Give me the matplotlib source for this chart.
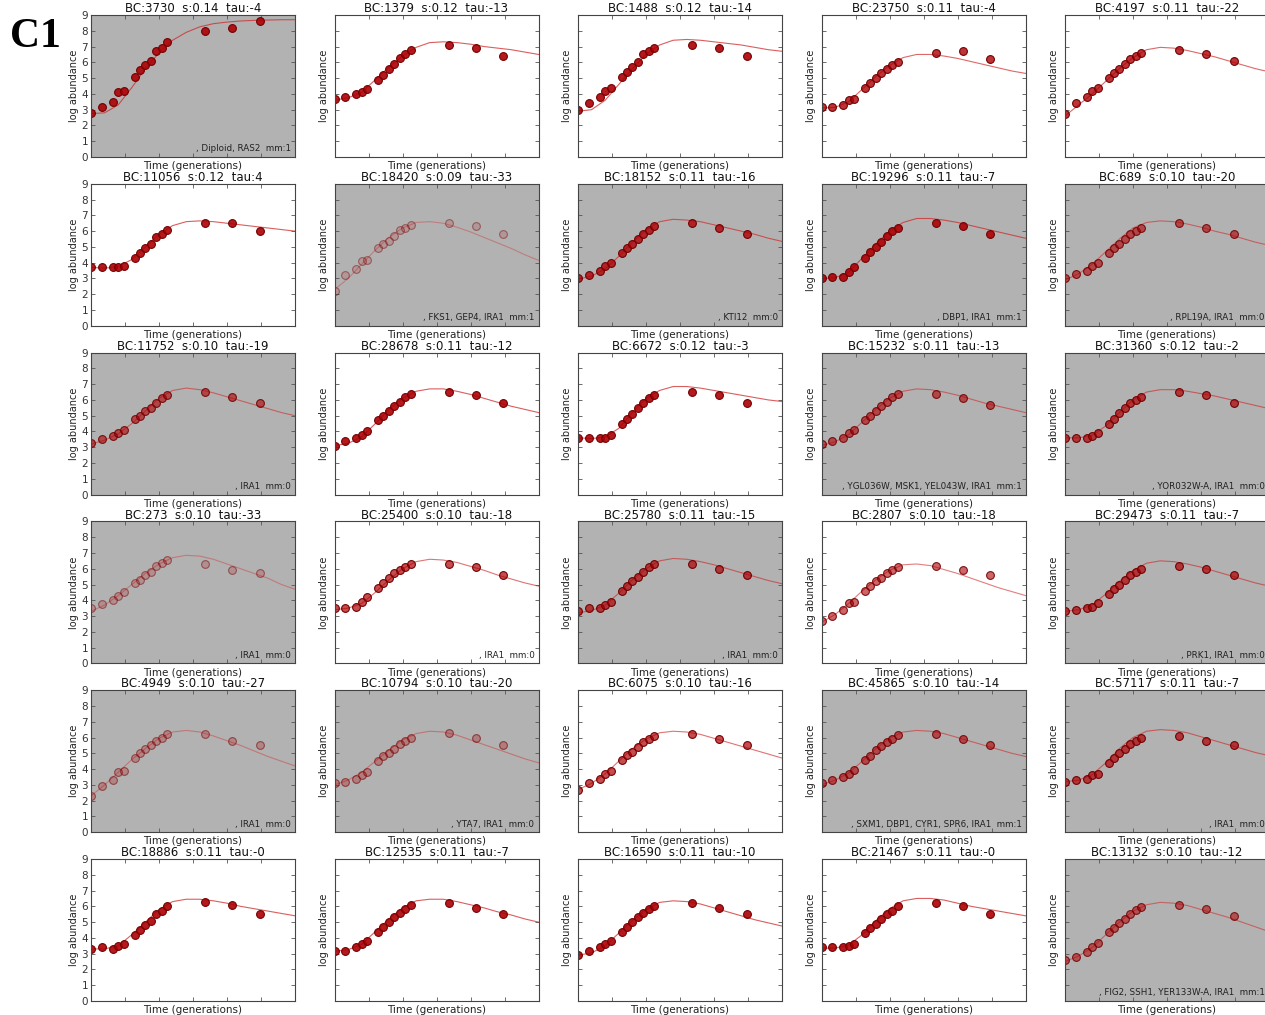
import matplotlib
matplotlib.use('Agg')
import matplotlib.pyplot as plt
import numpy as np

# ── Data ───────────────────────────────────────────────────────────────────
# sampling times (generations), shared by every barcode
times = [0, 8, 16, 20, 24, 32, 36, 40, 44, 48, 52, 56, 84, 104, 124]
# times at which the fitted curve was read
fit_t = [0, 10, 20, 30, 40, 50, 60, 70, 80, 90, 100, 110, 120, 130, 140, 150]

bc_ids = [3730, 1379, 1488, 23750, 4197,
          11056, 18420, 18152, 19296, 689,
          11752, 28678, 6672, 15232, 31360,
          273, 25400, 25780, 2807, 29473,
          4949, 10794, 6075, 45865, 57117,
          18886, 12535, 16590, 21467, 13132]
s_vals = ['0.14', '0.12', '0.12', '0.11', '0.11',
          '0.12', '0.09', '0.11', '0.11', '0.10',
          '0.10', '0.11', '0.12', '0.11', '0.12',
          '0.10', '0.10', '0.11', '0.10', '0.11',
          '0.10', '0.10', '0.10', '0.10', '0.11',
          '0.11', '0.11', '0.11', '0.11', '0.10']
tau_vals = ['-4', '-13', '-14', '-4', '-22',
            '4', '-33', '-16', '-7', '-20',
            '-19', '-12', '-3', '-13', '-2',
            '-33', '-18', '-15', '-18', '-7',
            '-27', '-20', '-16', '-14', '-7',
            '-0', '-7', '-10', '-0', '-12']
notes = [', Diploid, RAS2  mm:1', '', '', '', '',
         '', ', FKS1, GEP4, IRA1  mm:1', ', KTI12  mm:0', ', DBP1, IRA1  mm:1', ', RPL19A, IRA1  mm:0',
         ', IRA1  mm:0', '', '', ', YGL036W, MSK1, YEL043W, IRA1  mm:1', ', YOR032W-A, IRA1  mm:0',
         ', IRA1  mm:0', ', IRA1  mm:0', ', IRA1  mm:0', '', ', PRK1, IRA1  mm:0',
         ', IRA1  mm:0', ', YTA7, IRA1  mm:0', '', ', SXM1, DBP1, CYR1, SPR6, IRA1  mm:1', ', IRA1  mm:0',
         '', '', '', '', ', FIG2, SSH1, YER133W-A, IRA1  mm:1']
shaded = [1, 0, 0, 0, 0,
          0, 1, 1, 1, 1,
          1, 0, 0, 1, 1,
          1, 0, 1, 0, 1,
          1, 1, 0, 1, 1,
          0, 0, 0, 0, 1]
pt_alpha = [0.9, 0.9, 0.9, 0.8, 0.8,
            0.9, 0.15, 0.8, 0.9, 0.6,
            0.6, 0.9, 0.9, 0.6, 0.7,
            0.2, 0.7, 0.7, 0.6, 0.7,
            0.25, 0.3, 0.7, 0.6, 0.7,
            0.9, 0.9, 0.9, 0.9, 0.55]

abund = [
    [2.8, 3.2, 3.5, 4.1, 4.2, 5.1, 5.5, 5.8, 6.1, 6.7, 6.9, 7.3, 8.0, 8.2, 8.6],
    [3.7, 3.8, 4.0, 4.1, 4.3, 4.9, 5.2, 5.6, 5.9, 6.3, 6.5, 6.8, 7.1, 6.9, 6.4],
    [3.0, 3.4, 3.8, 4.2, 4.4, 5.1, 5.4, 5.7, 6.0, 6.5, 6.7, 6.9, 7.1, 6.9, 6.4],
    [3.2, 3.2, 3.3, 3.6, 3.7, 4.4, 4.7, 5.0, 5.3, 5.6, 5.8, 6.0, 6.6, 6.7, 6.2],
    [2.7, 3.4, 3.8, 4.2, 4.4, 5.0, 5.3, 5.6, 5.9, 6.2, 6.4, 6.6, 6.8, 6.5, 6.1],
    [3.7, 3.7, 3.7, 3.7, 3.8, 4.3, 4.6, 4.9, 5.2, 5.6, 5.8, 6.1, 6.5, 6.5, 6.0],
    [2.2, 3.2, 3.6, 4.1, 4.2, 4.9, 5.2, 5.4, 5.7, 6.1, 6.2, 6.4, 6.5, 6.3, 5.8],
    [3.0, 3.2, 3.5, 3.8, 4.0, 4.6, 4.9, 5.2, 5.5, 5.8, 6.1, 6.3, 6.5, 6.2, 5.8],
    [3.0, 3.1, 3.1, 3.4, 3.7, 4.3, 4.7, 5.0, 5.3, 5.7, 6.0, 6.2, 6.5, 6.3, 5.8],
    [3.0, 3.3, 3.5, 3.8, 4.0, 4.6, 4.9, 5.2, 5.5, 5.8, 6.0, 6.2, 6.5, 6.2, 5.8],
    [3.3, 3.5, 3.7, 3.9, 4.1, 4.8, 5.0, 5.3, 5.5, 5.8, 6.1, 6.3, 6.5, 6.2, 5.8],
    [3.1, 3.4, 3.6, 3.8, 4.0, 4.7, 5.0, 5.3, 5.6, 5.9, 6.2, 6.4, 6.5, 6.3, 5.8],
    [3.6, 3.6, 3.6, 3.6, 3.8, 4.5, 4.8, 5.1, 5.5, 5.8, 6.1, 6.3, 6.5, 6.3, 5.8],
    [3.2, 3.4, 3.6, 3.9, 4.1, 4.7, 5.0, 5.3, 5.6, 5.9, 6.2, 6.4, 6.4, 6.1, 5.7],
    [3.6, 3.6, 3.6, 3.7, 3.9, 4.5, 4.8, 5.2, 5.5, 5.8, 6.0, 6.2, 6.5, 6.3, 5.8],
    [3.5, 3.75, 4.0, 4.25, 4.5, 5.1, 5.3, 5.6, 5.8, 6.2, 6.35, 6.55, 6.3, 5.9, 5.7],
    [3.5, 3.5, 3.6, 3.9, 4.2, 4.8, 5.1, 5.4, 5.7, 5.9, 6.1, 6.3, 6.3, 6.1, 5.6],
    [3.3, 3.5, 3.5, 3.7, 3.9, 4.6, 4.9, 5.2, 5.5, 5.8, 6.1, 6.3, 6.3, 6.0, 5.6],
    [2.7, 3.0, 3.4, 3.8, 3.9, 4.6, 4.9, 5.2, 5.4, 5.7, 5.9, 6.1, 6.2, 5.9, 5.6],
    [3.3, 3.4, 3.5, 3.6, 3.8, 4.4, 4.7, 5.0, 5.3, 5.6, 5.8, 6.0, 6.2, 6.0, 5.6],
    [2.3, 2.9, 3.3, 3.8, 3.9, 4.7, 5.0, 5.3, 5.5, 5.8, 6.0, 6.2, 6.2, 5.8, 5.5],
    [3.1, 3.2, 3.4, 3.6, 3.8, 4.5, 4.8, 5.0, 5.3, 5.6, 5.8, 6.0, 6.3, 6.0, 5.5],
    [2.7, 3.1, 3.4, 3.7, 3.9, 4.6, 4.9, 5.1, 5.4, 5.7, 5.9, 6.1, 6.2, 5.9, 5.5],
    [3.1, 3.3, 3.5, 3.7, 3.95, 4.6, 4.85, 5.2, 5.45, 5.7, 5.9, 6.15, 6.25, 5.9, 5.5],
    [3.2, 3.3, 3.4, 3.6, 3.7, 4.4, 4.7, 5.0, 5.3, 5.6, 5.8, 6.0, 6.1, 5.8, 5.5],
    [3.3, 3.4, 3.3, 3.5, 3.6, 4.2, 4.5, 4.8, 5.1, 5.5, 5.7, 6.0, 6.3, 6.1, 5.5],
    [3.2, 3.2, 3.4, 3.6, 3.8, 4.4, 4.7, 5.0, 5.3, 5.6, 5.8, 6.1, 6.2, 5.9, 5.5],
    [2.9, 3.2, 3.4, 3.6, 3.8, 4.4, 4.7, 5.0, 5.3, 5.6, 5.8, 6.0, 6.2, 5.9, 5.5],
    [3.4, 3.4, 3.4, 3.5, 3.6, 4.3, 4.6, 4.9, 5.2, 5.5, 5.7, 6.0, 6.2, 6.0, 5.5],
    [2.6, 2.8, 3.1, 3.4, 3.65, 4.35, 4.6, 4.95, 5.2, 5.5, 5.75, 5.95, 6.1, 5.85, 5.4],
]

fit = [
    [2.75, 2.8, 3.3, 4.4, 5.6, 6.6, 7.4, 7.9, 8.25, 8.45, 8.55, 8.62, 8.66, 8.68, 8.7, 8.7],
    [3.6, 3.75, 4.1, 4.9, 5.7, 6.4, 6.95, 7.25, 7.3, 7.25, 7.15, 7.0, 6.9, 6.8, 6.65, 6.5],
    [2.9, 3.0, 3.6, 4.6, 5.6, 6.5, 7.1, 7.4, 7.45, 7.4, 7.3, 7.2, 7.1, 6.95, 6.8, 6.7],
    [3.1, 3.15, 3.5, 4.3, 5.1, 5.8, 6.3, 6.5, 6.5, 6.4, 6.25, 6.05, 5.85, 5.65, 5.45, 5.3],
    [2.6, 3.3, 4.0, 4.8, 5.6, 6.3, 6.8, 6.95, 6.9, 6.75, 6.55, 6.35, 6.1, 5.85, 5.6, 5.4],
    [3.7, 3.65, 3.75, 4.2, 5.0, 5.8, 6.35, 6.6, 6.65, 6.6, 6.5, 6.4, 6.3, 6.2, 6.1, 6.0],
    [2.3, 3.0, 3.9, 4.8, 5.6, 6.2, 6.55, 6.6, 6.5, 6.25, 5.95, 5.6, 5.25, 4.9, 4.5, 4.15],
    [2.95, 3.15, 3.6, 4.4, 5.3, 6.1, 6.6, 6.75, 6.7, 6.6, 6.4, 6.2, 6.0, 5.8, 5.55, 5.35],
    [3.0, 3.05, 3.4, 4.3, 5.2, 6.0, 6.55, 6.8, 6.8, 6.7, 6.55, 6.35, 6.15, 5.95, 5.75, 5.55],
    [2.9, 3.3, 3.9, 4.7, 5.5, 6.2, 6.55, 6.65, 6.6, 6.45, 6.25, 6.0, 5.8, 5.55, 5.3, 5.1],
    [3.2, 3.45, 3.85, 4.5, 5.3, 6.1, 6.6, 6.75, 6.65, 6.45, 6.2, 5.95, 5.7, 5.45, 5.2, 5.0],
    [3.1, 3.25, 3.65, 4.5, 5.4, 6.1, 6.55, 6.7, 6.7, 6.55, 6.35, 6.1, 5.85, 5.6, 5.4, 5.2],
    [3.6, 3.55, 3.65, 4.2, 5.2, 6.1, 6.6, 6.85, 6.85, 6.75, 6.6, 6.45, 6.3, 6.15, 6.0, 5.9],
    [3.1, 3.35, 3.8, 4.6, 5.4, 6.1, 6.55, 6.7, 6.65, 6.5, 6.3, 6.05, 5.8, 5.6, 5.4, 5.2],
    [3.6, 3.6, 3.75, 4.35, 5.2, 6.0, 6.5, 6.65, 6.65, 6.55, 6.4, 6.25, 6.05, 5.85, 5.65, 5.45],
    [3.3, 3.7, 4.3, 5.0, 5.7, 6.3, 6.7, 6.85, 6.8, 6.6, 6.3, 6.0, 5.7, 5.4, 5.0, 4.7],
    [3.4, 3.5, 3.8, 4.5, 5.3, 6.0, 6.45, 6.6, 6.55, 6.4, 6.15, 5.9, 5.6, 5.35, 5.1, 4.9],
    [3.2, 3.35, 3.7, 4.45, 5.3, 6.0, 6.5, 6.65, 6.6, 6.45, 6.25, 6.0, 5.75, 5.5, 5.25, 5.05],
    [2.6, 3.1, 3.8, 4.6, 5.3, 5.9, 6.25, 6.3, 6.2, 5.95, 5.7, 5.4, 5.1, 4.8, 4.55, 4.3],
    [3.3, 3.4, 3.7, 4.4, 5.2, 5.9, 6.35, 6.5, 6.45, 6.3, 6.1, 5.85, 5.6, 5.35, 5.1, 4.9],
    [2.3, 3.0, 3.8, 4.6, 5.3, 5.95, 6.35, 6.45, 6.35, 6.1, 5.8, 5.5, 5.15, 4.8, 4.5, 4.2],
    [3.0, 3.3, 3.8, 4.5, 5.2, 5.85, 6.25, 6.4, 6.35, 6.15, 5.85, 5.55, 5.25, 4.95, 4.65, 4.4],
    [2.7, 3.1, 3.7, 4.5, 5.3, 5.9, 6.3, 6.4, 6.35, 6.2, 5.95, 5.7, 5.45, 5.2, 4.95, 4.7],
    [3.0, 3.3, 3.75, 4.5, 5.3, 5.95, 6.35, 6.45, 6.4, 6.25, 6.0, 5.75, 5.5, 5.25, 5.0, 4.8],
    [3.2, 3.3, 3.65, 4.4, 5.3, 6.0, 6.4, 6.5, 6.45, 6.3, 6.05, 5.8, 5.55, 5.3, 5.05, 4.85],
    [3.3, 3.3, 3.5, 4.2, 5.0, 5.8, 6.3, 6.45, 6.45, 6.35, 6.2, 6.0, 5.85, 5.7, 5.55, 5.4],
    [3.15, 3.25, 3.6, 4.4, 5.2, 5.9, 6.35, 6.45, 6.45, 6.3, 6.1, 5.9, 5.65, 5.45, 5.2, 5.0],
    [2.9, 3.05, 3.5, 4.3, 5.1, 5.8, 6.25, 6.35, 6.3, 6.15, 5.9, 5.65, 5.4, 5.15, 4.95, 4.75],
    [3.35, 3.35, 3.55, 4.2, 5.1, 5.85, 6.35, 6.5, 6.5, 6.4, 6.2, 6.0, 5.85, 5.7, 5.55, 5.4],
    [2.5, 2.85, 3.4, 4.2, 5.0, 5.7, 6.1, 6.25, 6.2, 6.05, 5.8, 5.55, 5.3, 5.0, 4.7, 4.4],
]

# ── Figure ──────────────────────────────────────────────────────────────────
W, H = 1265, 1015
fig = plt.figure(figsize=(W / 100, H / 100), dpi=100, facecolor='white')
fig.text(10 / W, 1 - 37 / H, 'C1', fontsize=30, family='Liberation Serif',
         fontweight='bold', va='center', ha='left')

ax_w, ax_h = 204, 142
for i in range(30):
    r, c = divmod(i, 5)
    left = 91 + 243.5 * c
    top = 15 + 168.8 * r
    ax = fig.add_axes([left / W, 1 - (top + ax_h) / H, ax_w / W, ax_h / H])
    ax.set_facecolor('#b2b2b2' if shaded[i] else 'white')

    a = pt_alpha[i]
    ax.plot(fit_t, fit[i], '-', color='#d02828', lw=0.8, alpha=0.3 + 0.5 * a)
    ax.plot(times, abund[i], 'o', ms=5.6,
            markerfacecolor=(0.68, 0.0, 0.02, a),
            markeredgecolor=(0.45, 0.0, 0.0, min(1.0, a + 0.3)), mew=0.8)

    ax.set_xlim(0, 150)
    ax.set_ylim(0, 9)
    ax.set_xticks([0, 25, 50, 75, 100, 125, 150])
    ax.set_yticks(range(10))
    ax.set_xticklabels([])
    if c == 0:
        ax.set_yticklabels([str(v) for v in range(10)], fontsize=7.5, color='#333333')
    else:
        ax.set_yticklabels([])
    ax.tick_params(direction='in', length=3, width=0.6, top=True, right=True,
                   color='#555555', pad=2)
    for sp in ax.spines.values():
        sp.set_color('#444444')
        sp.set_linewidth(0.8)

    ax.set_title(f'BC:{bc_ids[i]}  s:{s_vals[i]}  tau:{tau_vals[i]}',
                 fontsize=8.5, pad=2, color='#111111')
    ax.set_ylabel('log abundance', fontsize=7, labelpad=2, color='#222222')
    ax.set_xlabel('Time (generations)', fontsize=7.5, labelpad=1, color='#222222')
    if notes[i]:
        ax.text(0.98, 0.025, notes[i], transform=ax.transAxes, ha='right',
                va='bottom', fontsize=6.3, color='#222222')

fig.savefig('out.png', dpi=100, facecolor='white')
